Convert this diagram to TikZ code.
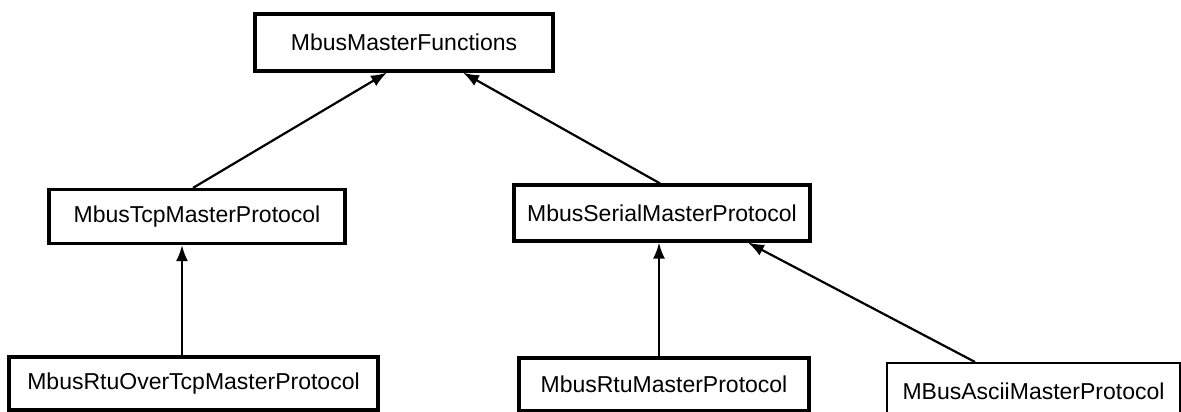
\documentclass[tikz,border=0pt]{standalone}
\usepackage{fontspec}
\setmainfont{Liberation Sans}
\usetikzlibrary{arrows.meta}
\tikzset{
  classbox/.style={draw, line width=3.2pt, inner sep=0pt, font=\fontsize{23}{28}\selectfont},
  inherit/.style={line width=2.2pt, -{Latex[length=16pt,width=12pt]}}
}
\begin{document}
\begin{tikzpicture}[x=1pt,y=-1pt]
        \useasboundingbox (0,0) rectangle (1181,412);

        % Classes
        \node[classbox, minimum width=298pt, minimum height=57pt] (mmf) at (404,42.5) {MbusMasterFunctions};
        \node[classbox, minimum width=296pt, minimum height=54pt] (tcp) at (197,216.5) {MbusTcpMasterProtocol};
        \node[classbox, minimum width=296pt, minimum height=56pt] (serial) at (662,213) {MbusSerialMasterProtocol};
        \node[classbox, minimum width=369pt, minimum height=53pt] (rtutcp) at (193.5,383.5) {MbusRtuOverTcpMasterProtocol};
        \node[classbox, minimum width=290pt, minimum height=53pt] (rtu) at (664,384.5) {MbusRtuMasterProtocol};
        \node[classbox, line width=2pt, minimum width=293pt, minimum height=56pt] (ascii) at (1033.5,391) {MBusAsciiMasterProtocol};

        % Inheritance arrows
        \draw[inherit] ([xshift=-4pt]tcp.north) -- ([xshift=-17pt]mmf.south);
        \draw[inherit] ([xshift=-2pt]serial.north) -- ([xshift=59pt]mmf.south);
        \draw[inherit] ([xshift=-11.5pt]rtutcp.north) -- ([xshift=-15pt]tcp.south);
        \draw[inherit] ([xshift=-5pt]rtu.north) -- ([xshift=-3pt]serial.south);
        \draw[inherit] ([xshift=-58.5pt]ascii.north) -- ([xshift=86pt]serial.south);
    \end{tikzpicture}
\end{document}
